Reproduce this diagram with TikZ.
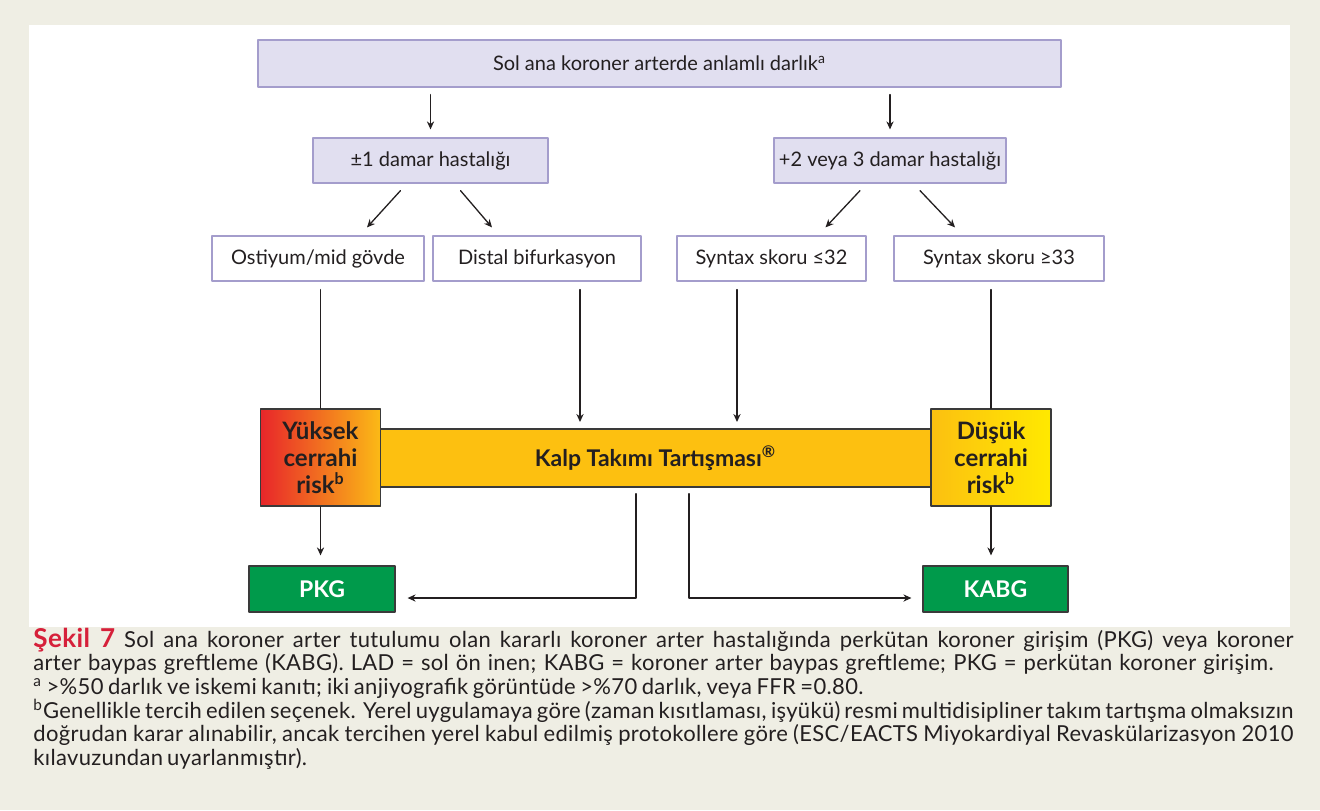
\documentclass[tikz,border=0pt]{standalone}
\usepackage{fontspec}
\setmainfont{Lato}
\newfontfamily\capfont{Lato}[LetterSpace=1.5]
\usetikzlibrary{arrows.meta}
\definecolor{pagebg}{HTML}{EFEEE4}
\definecolor{lavfill}{HTML}{E1DFF0}
\definecolor{lavedge}{HTML}{A49DCC}
\definecolor{ink}{HTML}{231F20}
\definecolor{riskedge}{HTML}{3A3A3A}
\definecolor{bandfill}{HTML}{FDC010}
\definecolor{highL}{HTML}{E8262A}
\definecolor{highR}{HTML}{FBBA16}
\definecolor{lowL}{HTML}{FCC011}
\definecolor{lowR}{HTML}{FFE900}
\definecolor{kgreen}{HTML}{009A4B}
\definecolor{sekilred}{HTML}{D6203A}

\begin{document}
\begin{tikzpicture}[x=0.5pt,y=-0.5pt,>={Stealth[length=4pt,width=3.6pt]},line cap=round,line join=round,
  lavbox/.style={draw=lavedge,fill=lavfill,line width=0.6pt,inner sep=0pt,minimum height=22.5pt,text=ink,font=\fontsize{10}{12}\selectfont},
  optbox/.style={lavbox,fill=white},
  riskbox/.style={draw=riskedge,line width=0.7pt,inner sep=0pt,minimum width=60pt,minimum height=48.5pt,align=center,text=ink,font=\bfseries\fontsize{12}{13.5}\selectfont},
  treatbox/.style={draw=riskedge,fill=kgreen,line width=0.6pt,inner sep=0pt,minimum height=23pt,text=white,font=\bfseries\fontsize{11.5}{13}\selectfont},
  conn/.style={draw=ink,line width=0.65pt},
  capline/.style={anchor=base west,inner sep=0pt,text=ink,font=\capfont\fontsize{11}{12}\selectfont}]
% page and panel
\fill[pagebg] (0,0) rectangle (1320,810);
\useasboundingbox (0,0) rectangle (1320,810);
\fill[white] (29,25) rectangle (1290,627);

% boxes
\node[lavbox,minimum width=401.5pt,minimum height=23.5pt] (lm) at (659.5,63.5) {Sol ana koroner arterde anlamlı darlık\textsuperscript{a}};
\node[lavbox,minimum width=117.5pt] (one) at (430.5,160.5) {±1 damar hastalığı};
\node[lavbox,minimum width=116pt] (multi) at (890,160.5) {+2 veya 3 damar hastalığı};
\node[optbox,minimum width=106pt] (ost) at (318,258.5) {Ostiyum/mid gövde};
\node[optbox,minimum width=104pt] (dist) at (537,258.5) {Distal bifurkasyon};
\node[optbox,minimum width=94.5pt] (syn32) at (771.5,258.5) {Syntax skoru ≤32};
\node[optbox,minimum width=105pt] (syn33) at (999,258.5) {Syntax skoru ≥33};

\node[riskbox,fill=bandfill,minimum width=275.5pt,minimum height=29pt,font=\bfseries\fontsize{11.5}{13}\selectfont] (band) at (655.5,458) {Kalp Takımı Tartışması\textsuperscript{®}};
\node[riskbox,left color=highL,right color=highR] (high) at (320.5,457.5) {Yüksek\\cerrahi\\risk\textsuperscript{b}};
\node[riskbox,left color=lowL,right color=lowR] (low) at (991,457.5) {Düşük\\cerrahi\\risk\textsuperscript{b}};

\node[treatbox,minimum width=73pt] (pkg) at (322,589) {PKG};
\node[treatbox,minimum width=72.5pt] (kabg) at (995.5,589) {KABG};

\coordinate (in1) at (580,429);
\coordinate (in2) at (737,429);

% connectors
\draw[conn,->,shorten <=3.5pt,shorten >=4pt] (lm.south -| one.north) -- (one.north);
\draw[conn,->,shorten <=3.5pt,shorten >=4pt] (lm.south -| multi.north) -- (multi.north);
\draw[conn,->] ([xshift=-15pt,yshift=-3.5pt]one.south) -- ([xshift=24.5pt,yshift=4pt]ost.north);
\draw[conn,->] ([xshift=15pt,yshift=-3.5pt]one.south) -- ([xshift=-22.5pt,yshift=4pt]dist.north);
\draw[conn,->] ([xshift=-15pt,yshift=-3.5pt]multi.south) -- ([xshift=27pt,yshift=4pt]syn32.north);
\draw[conn,->] ([xshift=15pt,yshift=-3.5pt]multi.south) -- ([xshift=-22pt,yshift=4pt]syn33.north);
\draw[conn,shorten <=4pt] (ost.south -| high.north) -- (high.north);
\draw[conn,->,shorten <=4pt,shorten >=3.5pt] (dist.south -| in1) -- (in1);
\draw[conn,->,shorten <=4pt,shorten >=3.5pt] (syn32.south -| in2) -- (in2);
\draw[conn,shorten <=4pt] (syn33.south -| low.north) -- (low.north);
\draw[conn,->,shorten >=5pt] (high.south) -- (high.south |- pkg.north);
\draw[conn,->,shorten >=5pt] (low.south) -- (low.south |- kabg.north);
\draw[conn,->,shorten <=3pt,shorten >=6pt] ([xshift=-9.75pt]band.south) |- ([yshift=-4.5pt]pkg.east);
\draw[conn,->,shorten <=3pt,shorten >=5.5pt] ([xshift=16.75pt]band.south) |- ([yshift=-4.5pt]kabg.west);

% caption
\node[capline] (cap1) at (33,647) {\makebox[630pt][s]{\textcolor{sekilred}{\bfseries\fontsize{13}{13}\selectfont Şekil 7}\ Sol ana koroner arter tutulumu olan kararlı koroner arter hastalığında perkütan koroner girişim (PKG) veya koroner}};
\node[capline] (cap2) at (33,670.7) {\makebox[620pt][s]{arter baypas greftleme (KABG). LAD = sol ön inen; KABG = koroner arter baypas greftleme; PKG = perkütan koroner girişim.}};
\node[capline] (cap3) at (33,694.4) {\makebox[415pt][s]{\textsuperscript{a} >\%50 darlık ve iskemi kanıtı; iki anjiyografik görüntüde >\%70 darlık, veya FFR =0.80.}};
\node[capline] (cap4) at (33,718.1) {\makebox[630pt][s]{\textsuperscript{b}Genellikle tercih edilen seçenek. Yerel uygulamaya göre (zaman kısıtlaması, işyükü) resmi multidisipliner takım tartışma olmaksızın}};
\node[capline] (cap5) at (33,741.8) {\makebox[630pt][s]{doğrudan karar alınabilir, ancak tercihen yerel kabul edilmiş protokollere göre (ESC/EACTS Miyokardiyal Revaskülarizasyon 2010}};
\node[capline] (cap6) at (33,765.5) {\makebox[132pt][s]{kılavuzundan uyarlanmıştır).}};
\end{tikzpicture}
\end{document}
